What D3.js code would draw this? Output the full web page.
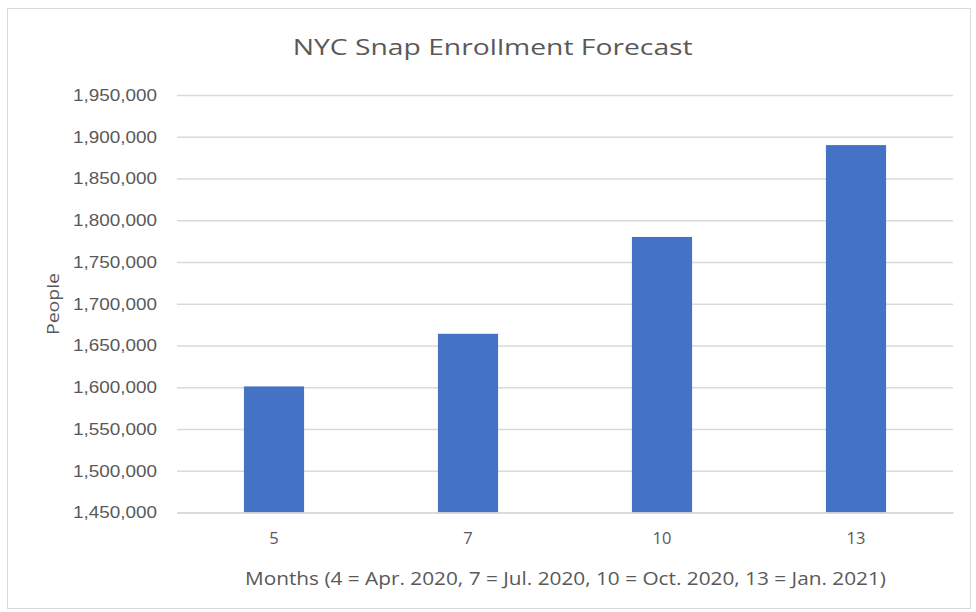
<!DOCTYPE html>
<html><head><meta charset="utf-8">
<script src="https://cdn.jsdelivr.net/npm/d3@7"></script>
<style>body{margin:0;background:#fff;}svg{display:block;font-family:"Open Sans","Noto Sans",sans-serif;}</style>
</head><body>
<script>
const categories = ["5", "7", "10", "13"];
const values = [1601000, 1664000, 1780000, 1890000];
const yTicks = [1450000,1500000,1550000,1600000,1650000,1700000,1750000,1800000,1850000,1900000,1950000];
const title = "NYC Snap Enrollment Forecast";
const xTitle = "Months (4 = Apr. 2020, 7 = Jul. 2020, 10 = Oct. 2020, 13 = Jan. 2021)";
const yTitle = "People";

const W = 976, H = 612;
const m = {left:177, right:976-953, top:95, bottom:612-512.5};
const svg = d3.select("body").append("svg").attr("width", W).attr("height", H);
svg.append("rect").attr("x",7.5).attr("y",8.5).attr("width",963).attr("height",600)
  .attr("fill","#fff").attr("stroke","#d9d9d9");

const x = d3.scaleBand().domain(categories).range([m.left, W - m.right]).paddingInner(0.69).paddingOuter(0.345);
const y = d3.scaleLinear().domain([1450000, 1950000]).range([H - m.bottom, m.top]);

// gridlines
svg.append("g").attr("transform", `translate(${m.left},0)`)
  .call(d3.axisLeft(y).tickValues(yTicks).tickSize(-(W - m.right - m.left)).tickFormat(""))
  .call(g => g.select(".domain").remove())
  .call(g => g.selectAll("line").attr("stroke","#d9d9d9").attr("stroke-width",1.3));

// y labels
svg.append("g").attr("transform", `translate(${m.left - 17},0)`)
  .call(d3.axisLeft(y).tickValues(yTicks).tickSize(0).tickFormat(d3.format(",")))
  .call(g => g.select(".domain").remove())
  .call(g => g.selectAll("text").attr("fill","#595959").attr("font-size",16.5)
    .attr("textLength",84).attr("lengthAdjust","spacingAndGlyphs"));

// bars
svg.append("g").selectAll("rect").data(values).join("rect")
  .attr("x", (d,i) => x(categories[i]))
  .attr("width", x.bandwidth())
  .attr("y", d => y(d))
  .attr("height", d => y(1450000) - y(d))
  .attr("fill", "#4472c4");

// x axis
svg.append("g").attr("transform", `translate(0,${H - m.bottom})`)
  .call(d3.axisBottom(x).tickSize(0).tickPadding(20))
  .call(g => g.select(".domain").attr("stroke","#d9d9d9").attr("stroke-width",1.3))
  .call(g => g.selectAll("text").attr("fill","#595959").attr("font-size",16.5).attr("font-family","Open Sans"));

svg.append("text").attr("x", 565.5).attr("y", 585)
  .attr("text-anchor","middle").attr("fill","#595959").attr("font-size",18.5)
  .attr("textLength",641).attr("lengthAdjust","spacingAndGlyphs")
  .text(xTitle);

svg.append("text").attr("transform", `translate(58.5,304) rotate(-90)`)
  .attr("text-anchor","middle").attr("fill","#595959").attr("font-size",16)
  .attr("textLength",62).attr("lengthAdjust","spacingAndGlyphs")
  .text(yTitle);

svg.append("text").attr("x", 492.7).attr("y", 55)
  .attr("text-anchor","middle").attr("fill","#595959").attr("font-size",22.5)
  .attr("textLength",400).attr("lengthAdjust","spacingAndGlyphs")
  .text(title);
</script>
</body></html>
